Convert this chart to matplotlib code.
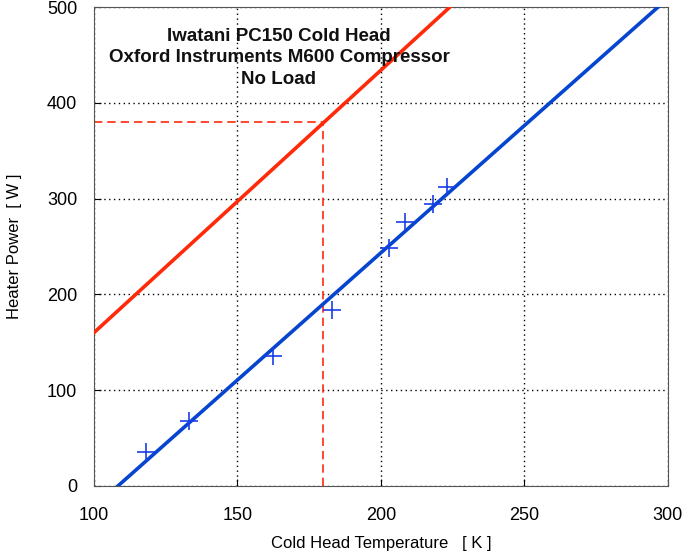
import matplotlib
matplotlib.use("Agg")
import matplotlib.pyplot as plt
import numpy as np

plt.rcParams["font.family"] = ["Liberation Sans", "DejaVu Sans"]

# measured points (cold head temperature K, heater power W)
temp_meas = [118, 133, 162.5, 183, 203, 208.5, 218, 223]
power_meas = [35, 68, 136, 184, 249, 276, 294, 312]

# fitted line through the measurements
fit_temp = [108.4, 296.5]
fit_power = [0, 500]

# second line (red)
red_temp = [100, 224]
red_power = [160, 500]

# operating point markers
op_temp = 180
op_power = 380

fig = plt.figure(figsize=(6.85, 5.56), dpi=100)
ax = fig.add_axes([0.137, 0.126, 0.838, 0.861])

ax.plot(fit_temp, fit_power, color="#0645d0", lw=2.6, zorder=3)
ax.plot(red_temp, red_power, color="#ff2a0a", lw=2.6, zorder=3)
ax.plot(temp_meas, power_meas, ls="none", marker="+", ms=13, mew=1.2,
        color="#1a3ee8", zorder=4)
ax.plot([100, op_temp], [op_power, op_power], color="#ff2a0a", lw=1.2, ls=(0, (5, 3)))
ax.plot([op_temp, op_temp], [0, op_power], color="#ff2a0a", lw=1.2, ls=(0, (5, 3)))

ax.set_xlim(100, 300)
ax.set_ylim(0, 500)
ax.set_xticks(np.arange(100, 301, 50))
ax.set_yticks(np.arange(0, 501, 100))
ax.grid(True, color="black", ls=(0, (1, 2.5)), lw=1.0)
ax.tick_params(direction="in", labelsize=13, length=5)
ax.tick_params(axis="x", pad=15)
ax.tick_params(axis="y", pad=12)
for s in ax.spines.values():
    s.set_color("#555555")

ax.set_xlabel("Cold Head Temperature   [ K ]", fontsize=12, labelpad=9)
ax.set_ylabel("Heater Power  [ W ]", fontsize=12, labelpad=18)

ax.text(164.5, 447, "Iwatani PC150 Cold Head\nOxford Instruments M600 Compressor\nNo Load",
        ha="center", va="center", fontsize=13.5, fontweight="bold",
        linespacing=1.35, color="#111111")

fig.savefig("out.png", dpi=100)
